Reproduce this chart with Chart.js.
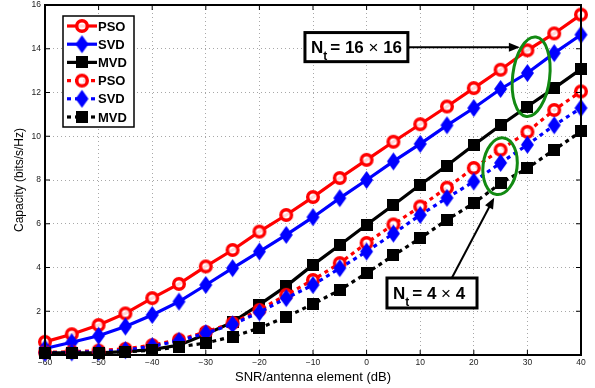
<!DOCTYPE html>
<html>
<head>
<meta charset="utf-8">
<script src="https://cdn.jsdelivr.net/npm/chart.js@4.4.1/dist/chart.umd.min.js"></script>
<style>
  html, body { margin: 0; padding: 0; background: #fff; }
</style>
</head>
<body>
<canvas id="myChart" width="595" height="388"></canvas>
<script>
// SNR per antenna element (dB)
const snr = [-60, -55, -50, -45, -40, -35, -30, -25, -20, -15, -10, -5, 0, 5, 10, 15, 20, 25, 30, 35, 40];

// Nt = 16x16
const pso16 = [0.6, 0.95, 1.37, 1.9, 2.6, 3.25, 4.05, 4.8, 5.64, 6.4, 7.22, 8.09, 8.92, 9.75, 10.55, 11.36, 12.2, 13.04, 13.93, 14.7, 15.56];
const svd16 = [0.3, 0.58, 0.88, 1.3, 1.83, 2.44, 3.2, 3.97, 4.73, 5.49, 6.3, 7.17, 8.0, 8.85, 9.65, 10.5, 11.29, 12.16, 12.89, 13.8, 14.64];
const mvd16 = [0.1, 0.1, 0.1, 0.15, 0.25, 0.45, 0.95, 1.5, 2.3, 3.15, 4.12, 5.03, 5.95, 6.86, 7.78, 8.66, 9.6, 10.5, 11.36, 12.2, 13.07];

// Nt = 4x4
const pso4 = [0.12, 0.15, 0.2, 0.28, 0.45, 0.7, 1.05, 1.46, 2.06, 2.75, 3.43, 4.2, 5.12, 5.97, 6.79, 7.65, 8.55, 9.38, 10.2, 11.2, 12.05];
const svd4 = [0.1, 0.12, 0.15, 0.22, 0.4, 0.65, 1.0, 1.4, 1.95, 2.6, 3.2, 3.97, 4.73, 5.55, 6.4, 7.18, 7.93, 8.78, 9.61, 10.5, 11.29];
const mvd4 = [0.1, 0.1, 0.1, 0.15, 0.22, 0.37, 0.55, 0.84, 1.23, 1.74, 2.33, 2.97, 3.74, 4.55, 5.34, 6.18, 6.94, 7.85, 8.54, 9.38, 10.22];

const xTicks = [-60, -50, -40, -30, -20, -10, 0, 10, 20, 30, 40];
const yTicks = [0, 2, 4, 6, 8, 10, 12, 14, 16];

const RED = "#ff0000";
const BLUE = "#0000ff";
const BLACK = "#000000";
const GREEN = "#128a12";

// marker images, MATLAB style
const makeMarker = (kind, color) => {
  const c = document.createElement("canvas");
  const g = c.getContext("2d");
  if (kind === "circle") {
    c.width = 16; c.height = 16;
    g.beginPath();
    g.arc(8, 8, 5.3, 0, Math.PI * 2);
    g.fillStyle = "rgba(255,255,255,0.85)";
    g.fill();
    g.lineWidth = 3.4;
    g.strokeStyle = color;
    g.stroke();
  } else if (kind === "diamond") {
    c.width = 15; c.height = 20;
    g.beginPath();
    g.moveTo(7.5, 1); g.lineTo(14, 10); g.lineTo(7.5, 19); g.lineTo(1, 10);
    g.closePath();
    g.fillStyle = color;
    g.fill();
  } else {
    c.width = 12; c.height = 12;
    g.fillStyle = color;
    g.fillRect(0, 0, 12, 12);
  }
  return c;
};

const mkCircle = makeMarker("circle", RED);
const mkDiamond = makeMarker("diamond", BLUE);
const mkSquare = makeMarker("square", BLACK);

const series = (label, data, color, marker, dotted, order) => ({
  label: label,
  data: data.map((v, i) => ({ x: snr[i], y: v })),
  borderColor: color,
  backgroundColor: color,
  borderWidth: 3.2,
  borderDash: dotted ? [4, 4] : [],
  borderCapStyle: "butt",
  pointStyle: marker,
  pointRadius: 7,
  tension: 0,
  fill: false,
  clip: false,
  order: order,
});

const datasets = [
  series("PSO", pso16, RED, mkCircle, false, 6),
  series("SVD", svd16, BLUE, mkDiamond, false, 5),
  series("MVD", mvd16, BLACK, mkSquare, false, 4),
  series("PSO", pso4, RED, mkCircle, true, 3),
  series("SVD", svd4, BLUE, mkDiamond, true, 2),
  series("MVD", mvd4, BLACK, mkSquare, true, 1),
];

// annotation anchors in data units
const box16 = { x1: -11.5, x2: 7.7, y1: 14.74, y2: 13.41, size: "16" };
const arrow16 = { x1: 7.7, y1: 14.07, x2: 28.6, y2: 14.07 };
const ring16 = { x: 30.7, y: 12.72, rx: 18.5, ry: 40, rot: 0.12 };
const box4 = { x1: 3.8, x2: 20.6, y1: 3.52, y2: 2.15, size: "4" };
const arrow4 = { x1: 15.9, y1: 3.52, x2: 23.8, y2: 7.19 };
const ring4 = { x: 24.9, y: 8.63, rx: 17, ry: 28.5, rot: 0.12 };

const ctx = document.getElementById("myChart");

const noPadding = () => ({ left: 0, top: 0, right: 0, bottom: 0 });

const drawArrow = (g, x, y, a) => {
  const x1 = x.getPixelForValue(a.x1), y1 = y.getPixelForValue(a.y1);
  const x2 = x.getPixelForValue(a.x2), y2 = y.getPixelForValue(a.y2);
  const ang = Math.atan2(y2 - y1, x2 - x1);
  g.strokeStyle = "#000";
  g.lineWidth = 2;
  g.beginPath();
  g.moveTo(x1, y1);
  g.lineTo(x2 - 8 * Math.cos(ang), y2 - 8 * Math.sin(ang));
  g.stroke();
  g.beginPath();
  g.moveTo(x2, y2);
  g.lineTo(x2 - 11 * Math.cos(ang) + 4.5 * Math.sin(ang), y2 - 11 * Math.sin(ang) - 4.5 * Math.cos(ang));
  g.lineTo(x2 - 11 * Math.cos(ang) - 4.5 * Math.sin(ang), y2 - 11 * Math.sin(ang) + 4.5 * Math.cos(ang));
  g.closePath();
  g.fillStyle = "#000";
  g.fill();
};

const drawBox = (g, x, y, b) => {
  const l = x.getPixelForValue(b.x1), r = x.getPixelForValue(b.x2);
  const t = y.getPixelForValue(b.y1), btm = y.getPixelForValue(b.y2);
  g.fillStyle = "#fff";
  g.fillRect(l, t, r - l, btm - t);
  g.strokeStyle = "#000";
  g.lineWidth = 3;
  g.strokeRect(l, t, r - l, btm - t);
  const base = (t + btm) / 2 + 6;
  let px = l + 6;
  g.fillStyle = "#000";
  g.textBaseline = "alphabetic";
  g.textAlign = "left";
  g.font = "bold 17px 'Liberation Sans', Arial, sans-serif";
  g.fillText("N", px, base);
  px += g.measureText("N").width;
  g.font = "bold 12px 'Liberation Sans', Arial, sans-serif";
  g.fillText("t", px, base + 7);
  px += g.measureText("t").width + 3;
  g.font = "bold 17px 'Liberation Sans', Arial, sans-serif";
  g.fillText("= " + b.size + " ", px, base);
  px += g.measureText("= " + b.size + " ").width;
  g.font = "17px 'Liberation Sans', Arial, sans-serif";
  g.fillText("\u00d7", px, base);
  px += g.measureText("\u00d7").width;
  g.font = "bold 17px 'Liberation Sans', Arial, sans-serif";
  g.fillText(" " + b.size, px, base);
};

const drawRing = (g, x, y, e) => {
  g.strokeStyle = GREEN;
  g.lineWidth = 3;
  g.beginPath();
  g.ellipse(x.getPixelForValue(e.x), y.getPixelForValue(e.y), e.rx, e.ry, e.rot, 0, Math.PI * 2);
  g.stroke();
};

const matlabFrame = {
  id: "matlabFrame",
  afterDatasetsDraw(chart) {
    const g = chart.ctx;
    const { x, y } = chart.scales;
    g.save();
    drawRing(g, x, y, ring16);
    drawRing(g, x, y, ring4);
    drawArrow(g, x, y, arrow16);
    drawArrow(g, x, y, arrow4);
    drawBox(g, x, y, box16);
    drawBox(g, x, y, box4);
    g.restore();
  },
  afterDraw(chart) {
    const g = chart.ctx;
    const a = chart.chartArea;
    const { x, y } = chart.scales;
    g.save();
    // inward ticks on all sides
    g.strokeStyle = "#000";
    g.lineWidth = 1;
    g.beginPath();
    xTicks.forEach((v) => {
      const px = x.getPixelForValue(v);
      g.moveTo(px, a.bottom); g.lineTo(px, a.bottom - 5);
      g.moveTo(px, a.top); g.lineTo(px, a.top + 5);
    });
    yTicks.forEach((v) => {
      const py = y.getPixelForValue(v);
      g.moveTo(a.left, py); g.lineTo(a.left + 5, py);
      g.moveTo(a.right, py); g.lineTo(a.right - 5, py);
    });
    g.stroke();
    g.lineWidth = 2;
    g.strokeRect(a.left, a.top, a.right - a.left, a.bottom - a.top);

    // legend box
    const lx = 63, ly = 16, lw = 71, lh = 111;
    g.fillStyle = "#fff";
    g.fillRect(lx, ly, lw, lh);
    g.lineWidth = 1.5;
    g.strokeRect(lx, ly, lw, lh);
    g.font = "bold 13px 'Liberation Sans', Arial, sans-serif";
    g.textBaseline = "middle";
    g.textAlign = "left";
    chart.data.datasets.forEach((ds, i) => {
      const ry = ly + 10 + i * 18.2;
      g.strokeStyle = ds.borderColor;
      g.lineWidth = 3.2;
      g.setLineDash(ds.borderDash);
      g.beginPath();
      g.moveTo(lx + 4, ry);
      g.lineTo(lx + 34, ry);
      g.stroke();
      g.setLineDash([]);
      const m = ds.pointStyle;
      g.drawImage(m, lx + 19 - m.width / 2, ry - m.height / 2);
      g.fillStyle = "#000";
      g.fillText(ds.label, lx + 35, ry + 1);
    });
    g.restore();
  },
};

const tickFont = { family: "'Liberation Sans', Arial, sans-serif", size: 8.5 };

new Chart(ctx, {
  type: "line",
  data: { datasets: datasets },
  options: {
    responsive: false,
    animation: false,
    devicePixelRatio: 1,
    layout: { autoPadding: false, padding: { left: 0, right: 14, top: 5, bottom: 0 } },
    plugins: { legend: { display: false }, tooltip: { enabled: false } },
    scales: {
      x: {
        type: "linear",
        min: -60,
        max: 40,
        afterFit: (s) => { s.height = 33; s.getPadding = noPadding; },
        afterBuildTicks: (s) => { s.ticks = xTicks.map((v) => ({ value: v })); },
        ticks: {
          font: tickFont,
          color: "#222",
          padding: 3,
          maxRotation: 0,
          callback: (v) => (v < 0 ? "\u2212" + Math.abs(v) : "" + v),
        },
        grid: { color: "#a8a8a8", lineWidth: 1, drawTicks: false },
        border: { display: false, dash: [1, 3] },
        title: {
          display: true,
          text: "SNR/antenna element (dB)",
          font: { family: "'Liberation Sans', Arial, sans-serif", size: 13 },
          color: "#000",
          padding: { top: 0, bottom: 3 },
        },
      },
      y: {
        type: "linear",
        min: 0,
        max: 16,
        afterFit: (s) => { s.width = 45; s.getPadding = noPadding; },
        afterBuildTicks: (s) => { s.ticks = yTicks.map((v) => ({ value: v })); },
        ticks: {
          font: tickFont,
          color: "#222",
          padding: 4,
          callback: (v) => (v === 0 ? "" : "" + v),
        },
        grid: { color: "#a8a8a8", lineWidth: 1, drawTicks: false },
        border: { display: false, dash: [1, 3] },
        title: {
          display: true,
          text: "Capacity (bits/s/Hz)",
          font: { family: "'Liberation Sans', Arial, sans-serif", size: 12 },
          color: "#000",
          padding: { top: 12, bottom: 0 },
        },
      },
    },
  },
  plugins: [matlabFrame],
});
</script>
</body>
</html>
